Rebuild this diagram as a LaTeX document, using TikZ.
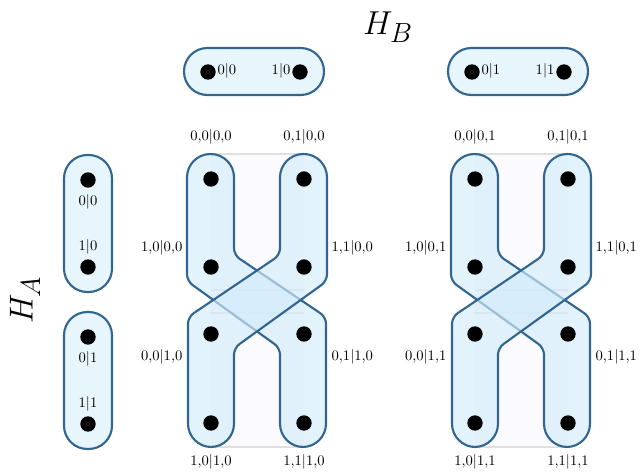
\documentclass[tikz,border=0pt]{standalone}
\usepackage{amsmath}
\begin{document}
\definecolor{edge}{HTML}{33668F}
\definecolor{fillb}{HTML}{D3ECFB}
\begin{tikzpicture}[x=0.75pt,y=-0.75pt,
  tube/.style={draw=edge,line width=1.6pt,fill=fillb,fill opacity=0.65},
  pill/.style={draw=edge,line width=1.6pt,fill=fillb!55},
  dot/.style={circle,fill=black,inner sep=0pt,minimum size=11.5pt},
  lab/.style={font=\fontsize{10.5}{12}\selectfont,inner sep=1pt},
  big/.style={font=\fontsize{30}{32}\selectfont}]
\useasboundingbox (0,0) rectangle (640,472);
\node[big] (HB) at (388,27) {$H_B$};
\node[big,rotate=90] (HA) at (25,300) {$H_A$};
% top pills
\foreach \dx/\b in {0/0,264/1}{
  \draw[pill,rounded corners=17.5pt] (184+\dx,48) rectangle (324+\dx,95);
  \node[dot] (tb\b a) at (208+\dx,72) {};
  \node[dot] (tb\b b) at (300+\dx,72) {};
  \node[lab,anchor=west] (tl\b a) at (216+\dx,71) {$0|\b$};
  \node[lab,anchor=east] (tl\b b) at (292+\dx,71) {$1|\b$};
}
% left pills
\foreach \y/\b in {0/0,157/1}{
  \draw[pill,rounded corners=17.5pt] (64,155+\y) rectangle (112,292+\y);
  \node[dot] (la\b a) at (88,180+\y) {};
  \node[dot] (la\b b) at (88,267+\y) {};
  \node[lab] (ll\b a) at (88,202+\y) {$0|\b$};
  \node[lab] (ll\b b) at (88,247+\y) {$1|\b$};
}
% structures
\foreach \dx/\b in {0/0,264/1}{
  \fill[blue!1.5] (211+\dx,154) rectangle (304+\dx,447);
  \foreach \yy in {154,290,313,447}
    \draw[black!12,line width=1pt] (211+\dx,\yy) -- (304+\dx,\yy);
  \draw[tube] (210+\dx,154) [rounded corners=17.5pt] -- (234+\dx,154) [rounded corners=5pt] -- (234+\dx,255) -- (326+\dx,317) [rounded corners=17.5pt] -- (326+\dx,447) -- (280+\dx,447) [rounded corners=5pt] -- (280+\dx,348) -- (187+\dx,281) [rounded corners=17.5pt] -- (187+\dx,154) [sharp corners] -- cycle;
  \draw[tube] (304+\dx,154) [rounded corners=17.5pt] -- (280+\dx,154) [rounded corners=5pt] -- (280+\dx,255) -- (188+\dx,317) [rounded corners=17.5pt] -- (188+\dx,447) -- (234+\dx,447) [rounded corners=5pt] -- (234+\dx,348) -- (327+\dx,281) [rounded corners=17.5pt] -- (327+\dx,154) [sharp corners] -- cycle;
  \node[dot] (d\b 1) at (211+\dx,179) {};
  \node[dot] (d\b 2) at (304+\dx,179) {};
  \node[dot] (d\b 3) at (211+\dx,267) {};
  \node[dot] (d\b 4) at (304+\dx,267) {};
  \node[dot] (d\b 5) at (211+\dx,334) {};
  \node[dot] (d\b 6) at (304+\dx,334) {};
  \node[dot] (d\b 7) at (211+\dx,423) {};
  \node[dot] (d\b 8) at (304+\dx,423) {};
  \node[lab] (l\b 1) at (211+\dx,137) {$0{,}0|0{,}\b$};
  \node[lab] (l\b 2) at (304+\dx,137) {$0{,}1|0{,}\b$};
  \node[lab,anchor=east] (l\b 3) at (184+\dx,248) {$1{,}0|0{,}\b$};
  \node[lab,anchor=west] (l\b 4) at (330+\dx,248) {$1{,}1|0{,}\b$};
  \node[lab,anchor=east] (l\b 5) at (184+\dx,357) {$0{,}0|1{,}\b$};
  \node[lab,anchor=west] (l\b 6) at (330+\dx,357) {$0{,}1|1{,}\b$};
  \node[lab] (l\b 7) at (211+\dx,462) {$1{,}0|1{,}\b$};
  \node[lab] (l\b 8) at (304+\dx,462) {$1{,}1|1{,}\b$};
}
\end{tikzpicture}
\end{document}
